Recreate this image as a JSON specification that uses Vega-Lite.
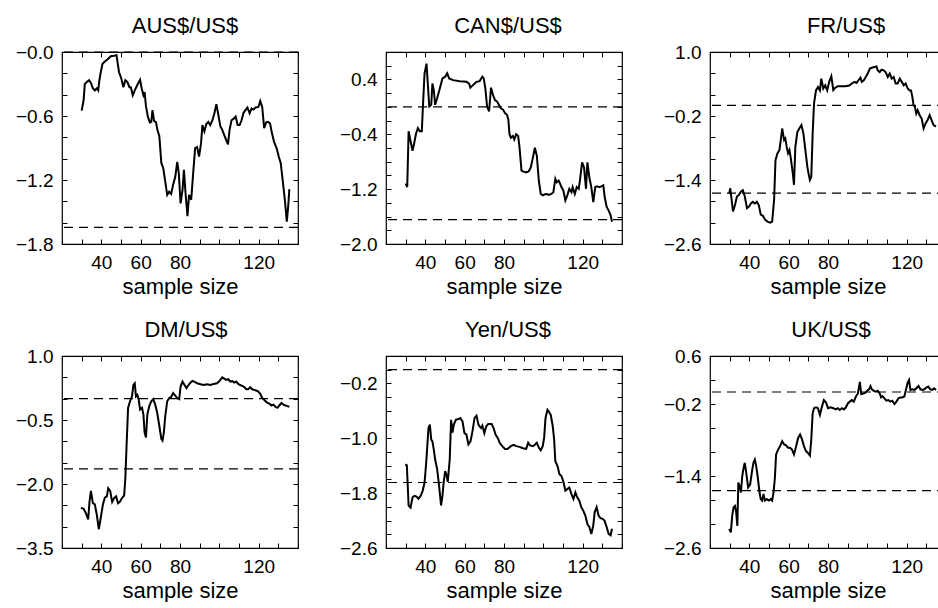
{
"$schema": "https://vega.github.io/schema/vega-lite/v6.json",
"padding": {"left": 14, "top": 14, "right": 0, "bottom": 0},
"background": "white",
"config": {
  "font": "Liberation Sans",
  "view": {"stroke": "black", "strokeWidth": 1.2},
  "axis": {"domain": false, "grid": false, "tickColor": "black", "tickSize": -5, "tickWidth": 1, "labelColor": "black", "labelFont": "Liberation Sans", "labelFontSize": 19, "titleFont": "Liberation Sans", "titleFontSize": 22, "titleFontWeight": "normal", "titleColor": "black", "labelOverlap": false, "labelFlush": false, "titlePadding": 4},
  "axisX": {"labelPadding": 14},
  "axisY": {"labelPadding": 14},
  "title": {"font": "Liberation Sans", "fontSize": 22, "fontWeight": "normal", "color": "black", "baseline": "alphabetic", "offset": 5}
},
"datasets": {
  "ref": [{"y": 0}, {"y": -1.645}],
  "aus": [
{"x":30,"y":-0.55},{"x":31,"y":-0.45},{"x":31.6,"y":-0.3},{"x":32.7,"y":-0.28},{"x":33.8,"y":-0.265},{"x":34.7,"y":-0.29},{"x":35.7,"y":-0.34},{"x":36.7,"y":-0.36},{"x":37.7,"y":-0.34},{"x":38.4,"y":-0.36},{"x":39,"y":-0.265},{"x":39.7,"y":-0.19},{"x":40.6,"y":-0.11},{"x":41.8,"y":-0.09},{"x":43.1,"y":-0.07},{"x":44.8,"y":-0.04},{"x":46.5,"y":-0.035},{"x":47.7,"y":-0.03},{"x":48.2,"y":-0.09},{"x":49,"y":-0.19},{"x":50.2,"y":-0.25},{"x":51.2,"y":-0.33},{"x":52.2,"y":-0.265},{"x":53.2,"y":-0.28},{"x":54.3,"y":-0.33},{"x":55,"y":-0.33},{"x":56,"y":-0.405},{"x":57,"y":-0.36},{"x":58.3,"y":-0.31},{"x":59.7,"y":-0.26},{"x":60.5,"y":-0.34},{"x":61.4,"y":-0.405},{"x":62,"y":-0.375},{"x":62.7,"y":-0.51},{"x":63.7,"y":-0.61},{"x":64.7,"y":-0.66},{"x":65.4,"y":-0.655},{"x":66,"y":-0.545},{"x":66.8,"y":-0.645},{"x":67.8,"y":-0.66},{"x":68.5,"y":-0.73},{"x":69.5,"y":-0.79},{"x":70.5,"y":-1.04},{"x":71.5,"y":-1.09},{"x":72.5,"y":-1.215},{"x":73.5,"y":-1.34},{"x":74.5,"y":-1.31},{"x":75.5,"y":-1.33},{"x":76.5,"y":-1.245},{"x":77.6,"y":-1.17},{"x":78.6,"y":-1.03},{"x":79.4,"y":-1.14},{"x":80.3,"y":-1.42},{"x":81.3,"y":-1.29},{"x":82,"y":-1.105},{"x":82.8,"y":-1.32},{"x":83.8,"y":-1.54},{"x":84.6,"y":-1.34},{"x":85.7,"y":-1.385},{"x":86.7,"y":-1.135},{"x":87.7,"y":-0.9},{"x":88.7,"y":-0.89},{"x":89.7,"y":-0.98},{"x":90.7,"y":-0.855},{"x":91.4,"y":-0.685},{"x":92.4,"y":-0.745},{"x":93.4,"y":-0.675},{"x":94.4,"y":-0.655},{"x":95.4,"y":-0.685},{"x":96.5,"y":-0.64},{"x":97.5,"y":-0.575},{"x":98.5,"y":-0.49},{"x":99.5,"y":-0.59},{"x":100.5,"y":-0.695},{"x":101.5,"y":-0.73},{"x":102.5,"y":-0.78},{"x":103.5,"y":-0.825},{"x":104.4,"y":-0.865},{"x":105.2,"y":-0.73},{"x":106.2,"y":-0.64},{"x":107.3,"y":-0.625},{"x":108.3,"y":-0.605},{"x":109.3,"y":-0.685},{"x":110.3,"y":-0.685},{"x":111.3,"y":-0.64},{"x":112.3,"y":-0.57},{"x":113.3,"y":-0.545},{"x":114.3,"y":-0.52},{"x":115.4,"y":-0.575},{"x":116.4,"y":-0.53},{"x":117.4,"y":-0.54},{"x":118.4,"y":-0.52},{"x":119.9,"y":-0.515},{"x":120.8,"y":-0.46},{"x":121.8,"y":-0.515},{"x":122.8,"y":-0.715},{"x":123.8,"y":-0.66},{"x":124.8,"y":-0.655},{"x":125.8,"y":-0.67},{"x":126.8,"y":-0.765},{"x":127.8,"y":-0.84},{"x":129.2,"y":-0.905},{"x":130.2,"y":-0.98},{"x":131.2,"y":-1.04},{"x":132.2,"y":-1.2},{"x":133.3,"y":-1.385},{"x":134.3,"y":-1.59},{"x":135,"y":-1.45},{"x":135.6,"y":-1.285}
  ],
  "can": [
{"x":30,"y":-1.12},{"x":30.8,"y":-1.17},{"x":31.5,"y":-0.355},{"x":32.5,"y":-0.5},{"x":33.5,"y":-0.64},{"x":34.4,"y":-0.52},{"x":35.2,"y":-0.4},{"x":36.2,"y":-0.31},{"x":37.2,"y":-0.355},{"x":38.2,"y":-0.355},{"x":38.9,"y":0.08},{"x":39.6,"y":0.49},{"x":40.6,"y":0.63},{"x":41.3,"y":0.32},{"x":42,"y":0.005},{"x":43,"y":0.03},{"x":43.6,"y":0.34},{"x":44.3,"y":0.245},{"x":45,"y":0.03},{"x":46,"y":0.125},{"x":47.4,"y":0.27},{"x":48.7,"y":0.415},{"x":50.1,"y":0.44},{"x":51.1,"y":0.49},{"x":52.1,"y":0.415},{"x":54.1,"y":0.39},{"x":57.5,"y":0.375},{"x":60.9,"y":0.365},{"x":62.2,"y":0.34},{"x":62.9,"y":0.28},{"x":64.3,"y":0.32},{"x":66,"y":0.365},{"x":67.6,"y":0.375},{"x":69,"y":0.44},{"x":69.7,"y":0.415},{"x":70.5,"y":0.27},{"x":71.4,"y":0.005},{"x":72.4,"y":-0.065},{"x":73.4,"y":0.28},{"x":74.4,"y":0.175},{"x":75.4,"y":0.1},{"x":76.4,"y":0.08},{"x":77.4,"y":0.03},{"x":78.4,"y":-0.02},{"x":79.5,"y":-0.04},{"x":80.5,"y":-0.09},{"x":81.5,"y":-0.115},{"x":82.2,"y":-0.185},{"x":82.8,"y":-0.4},{"x":83.5,"y":-0.45},{"x":84.5,"y":-0.425},{"x":85.2,"y":-0.475},{"x":86.2,"y":-0.4},{"x":87.2,"y":-0.425},{"x":87.9,"y":-0.595},{"x":88.9,"y":-0.93},{"x":89.9,"y":-0.945},{"x":91.3,"y":-0.955},{"x":92.6,"y":-0.94},{"x":93.6,"y":-0.885},{"x":94.7,"y":-0.74},{"x":95.7,"y":-0.595},{"x":96.7,"y":-0.715},{"x":97.7,"y":-1.075},{"x":98.7,"y":-1.27},{"x":99.7,"y":-1.29},{"x":100.7,"y":-1.275},{"x":101.7,"y":-1.27},{"x":102.7,"y":-1.285},{"x":104.1,"y":-1.27},{"x":105.1,"y":-1.245},{"x":106.1,"y":-1.05},{"x":106.8,"y":-1.1},{"x":107.8,"y":-1.075},{"x":108.5,"y":-1.12},{"x":109.2,"y":-1.17},{"x":110.2,"y":-1.22},{"x":111.2,"y":-1.365},{"x":112.2,"y":-1.29},{"x":113.2,"y":-1.195},{"x":114.3,"y":-1.245},{"x":114.9,"y":-1.17},{"x":116,"y":-1.27},{"x":117,"y":-1.17},{"x":118,"y":-1.195},{"x":118.6,"y":-1.075},{"x":119.7,"y":-0.81},{"x":120.7,"y":-0.885},{"x":121.7,"y":-1.195},{"x":122.4,"y":-0.81},{"x":123.4,"y":-1.03},{"x":124.4,"y":-1.17},{"x":125.4,"y":-1.39},{"x":126.4,"y":-1.17},{"x":127.4,"y":-1.16},{"x":128.4,"y":-1.17},{"x":129.5,"y":-1.16},{"x":130.5,"y":-1.145},{"x":131.2,"y":-1.315},{"x":132.2,"y":-1.46},{"x":133.2,"y":-1.51},{"x":134.2,"y":-1.58},{"x":134.9,"y":-1.675}
  ],
  "fr": [
{"x":29.8,"y":-1.65},{"x":30.3,"y":-1.555},{"x":31,"y":-1.775},{"x":31.7,"y":-1.99},{"x":32.7,"y":-1.87},{"x":33.7,"y":-1.71},{"x":34.7,"y":-1.68},{"x":35.7,"y":-1.62},{"x":36.7,"y":-1.59},{"x":37.7,"y":-1.71},{"x":38.8,"y":-1.93},{"x":39.8,"y":-1.9},{"x":40.8,"y":-1.84},{"x":41.8,"y":-1.81},{"x":42.8,"y":-1.84},{"x":43.8,"y":-1.81},{"x":44.8,"y":-1.87},{"x":45.8,"y":-2.05},{"x":46.9,"y":-2.07},{"x":47.9,"y":-2.14},{"x":49.2,"y":-2.18},{"x":50.6,"y":-2.2},{"x":51.6,"y":-2.18},{"x":52.6,"y":-1.77},{"x":53.3,"y":-1.03},{"x":54.3,"y":-0.9},{"x":55.3,"y":-0.84},{"x":56,"y":-0.65},{"x":56.7,"y":-0.435},{"x":57.7,"y":-0.65},{"x":58.3,"y":-0.62},{"x":59,"y":-0.78},{"x":59.7,"y":-0.9},{"x":60.4,"y":-0.84},{"x":61.1,"y":-0.995},{"x":62.1,"y":-1.275},{"x":62.7,"y":-1.49},{"x":63.4,"y":-0.78},{"x":64.4,"y":-0.5},{"x":65.4,"y":-0.435},{"x":66.5,"y":-0.37},{"x":67.5,"y":-0.53},{"x":68.5,"y":-0.84},{"x":69.5,"y":-1.15},{"x":70.2,"y":-1.3},{"x":70.8,"y":-1.4},{"x":71.5,"y":-1.34},{"x":72.2,"y":-0.53},{"x":72.9,"y":0.035},{"x":73.9,"y":0.28},{"x":74.9,"y":0.345},{"x":75.9,"y":0.28},{"x":76.6,"y":0.5},{"x":77.6,"y":0.315},{"x":78.6,"y":0.375},{"x":79.6,"y":0.28},{"x":80.6,"y":0.44},{"x":81.7,"y":0.545},{"x":82.7,"y":0.285},{"x":83.7,"y":0.33},{"x":85,"y":0.36},{"x":86.7,"y":0.36},{"x":88.7,"y":0.36},{"x":90.8,"y":0.37},{"x":92.1,"y":0.41},{"x":93.5,"y":0.44},{"x":94.5,"y":0.42},{"x":95.5,"y":0.47},{"x":96.5,"y":0.52},{"x":97.2,"y":0.44},{"x":98.2,"y":0.47},{"x":99.2,"y":0.53},{"x":100.2,"y":0.595},{"x":101.3,"y":0.69},{"x":102.3,"y":0.705},{"x":103.6,"y":0.72},{"x":104.6,"y":0.73},{"x":105.3,"y":0.655},{"x":106.3,"y":0.625},{"x":107.3,"y":0.67},{"x":108.3,"y":0.655},{"x":109.3,"y":0.625},{"x":110.4,"y":0.53},{"x":111.4,"y":0.595},{"x":112.4,"y":0.5},{"x":113.4,"y":0.53},{"x":114.4,"y":0.41},{"x":115.4,"y":0.41},{"x":116.5,"y":0.5},{"x":117.5,"y":0.44},{"x":118.5,"y":0.375},{"x":119.5,"y":0.41},{"x":120.5,"y":0.315},{"x":121.5,"y":0.28},{"x":122.2,"y":0.28},{"x":122.9,"y":0.16},{"x":123.5,"y":0},{"x":124.2,"y":-0.03},{"x":124.9,"y":-0.155},{"x":125.6,"y":-0.09},{"x":126.6,"y":-0.185},{"x":127.6,"y":-0.245},{"x":128.6,"y":-0.435},{"x":129.6,"y":-0.34},{"x":130.6,"y":-0.28},{"x":131.7,"y":-0.185},{"x":132.7,"y":-0.28},{"x":133.7,"y":-0.37},{"x":134.9,"y":-0.4}
  ],
  "dm": [
{"x":29.6,"y":-2.56},{"x":31,"y":-2.58},{"x":32.3,"y":-2.7},{"x":33.3,"y":-2.83},{"x":34,"y":-2.41},{"x":34.7,"y":-2.16},{"x":35.7,"y":-2.45},{"x":36.7,"y":-2.48},{"x":37.7,"y":-2.72},{"x":38.7,"y":-3.06},{"x":39.7,"y":-2.79},{"x":40.8,"y":-2.48},{"x":41.8,"y":-2.32},{"x":42.8,"y":-2.29},{"x":43.5,"y":-2.1},{"x":44.5,"y":-2.16},{"x":45.5,"y":-2.42},{"x":46.5,"y":-2.33},{"x":47.5,"y":-2.29},{"x":48.5,"y":-2.45},{"x":49.5,"y":-2.41},{"x":50.5,"y":-2.33},{"x":51.6,"y":-2.27},{"x":52.2,"y":-1.87},{"x":52.9,"y":-1.02},{"x":53.6,"y":-0.215},{"x":54.6,"y":-0.06},{"x":55.6,"y":0.055},{"x":56.3,"y":0.32},{"x":57,"y":0.36},{"x":57.6,"y":0.055},{"x":58.3,"y":0.09},{"x":59,"y":-0.02},{"x":59.7,"y":-0.255},{"x":60.7,"y":-0.215},{"x":61.4,"y":-0.37},{"x":62,"y":-0.79},{"x":62.7,"y":-0.91},{"x":63.4,"y":-0.37},{"x":64.4,"y":-0.175},{"x":65.4,"y":-0.06},{"x":66.4,"y":-0.01},{"x":67.4,"y":-0.14},{"x":68.4,"y":-0.33},{"x":69.5,"y":-0.64},{"x":70.5,"y":-0.945},{"x":71.1,"y":-0.985},{"x":71.8,"y":-0.79},{"x":72.5,"y":-0.41},{"x":73.5,"y":-0.06},{"x":74.5,"y":0.015},{"x":75.5,"y":0.04},{"x":76.5,"y":0.13},{"x":77.6,"y":0.07},{"x":78.6,"y":0.015},{"x":79.6,"y":-0.01},{"x":80.3,"y":0.285},{"x":81.3,"y":0.4},{"x":82.3,"y":0.32},{"x":83.3,"y":0.245},{"x":84.3,"y":0.32},{"x":85.3,"y":0.375},{"x":86.3,"y":0.415},{"x":87.3,"y":0.4},{"x":88.7,"y":0.36},{"x":90.4,"y":0.34},{"x":92.1,"y":0.32},{"x":93.8,"y":0.34},{"x":95.4,"y":0.32},{"x":97.1,"y":0.345},{"x":98.8,"y":0.36},{"x":99.8,"y":0.4},{"x":100.5,"y":0.44},{"x":101.5,"y":0.5},{"x":102.5,"y":0.47},{"x":103.5,"y":0.44},{"x":104.6,"y":0.455},{"x":105.6,"y":0.4},{"x":106.6,"y":0.41},{"x":107.6,"y":0.375},{"x":108.6,"y":0.4},{"x":109.6,"y":0.345},{"x":110.6,"y":0.32},{"x":111.6,"y":0.3},{"x":112.7,"y":0.27},{"x":113.7,"y":0.22},{"x":114.7,"y":0.22},{"x":115.7,"y":0.27},{"x":116.7,"y":0.22},{"x":117.7,"y":0.205},{"x":118.7,"y":0.19},{"x":119.7,"y":0.17},{"x":120.8,"y":0.115},{"x":121.8,"y":0.015},{"x":122.4,"y":-0.01},{"x":123.5,"y":-0.06},{"x":124.5,"y":-0.1},{"x":125.5,"y":-0.115},{"x":126.5,"y":-0.16},{"x":127.5,"y":-0.14},{"x":128.5,"y":-0.19},{"x":129.5,"y":-0.215},{"x":130.5,"y":-0.16},{"x":131.6,"y":-0.1},{"x":132.6,"y":-0.14},{"x":133.6,"y":-0.16},{"x":134.6,"y":-0.175},{"x":135.6,"y":-0.19}
  ],
  "yen": [
{"x":29.8,"y":-1.38},{"x":30.6,"y":-1.395},{"x":31.5,"y":-1.98},{"x":32.5,"y":-2.01},{"x":33.5,"y":-1.86},{"x":34.5,"y":-1.84},{"x":35.5,"y":-1.85},{"x":36.5,"y":-1.88},{"x":37.6,"y":-1.84},{"x":38.6,"y":-1.77},{"x":39.6,"y":-1.65},{"x":40.3,"y":-1.405},{"x":41,"y":-1.115},{"x":41.6,"y":-0.85},{"x":42.3,"y":-0.8},{"x":43,"y":-1.02},{"x":43.6,"y":-1.045},{"x":44.3,"y":-1.165},{"x":45,"y":-1.31},{"x":46,"y":-1.45},{"x":47,"y":-1.695},{"x":48,"y":-1.98},{"x":48.7,"y":-1.84},{"x":49.4,"y":-1.62},{"x":50.1,"y":-1.48},{"x":50.7,"y":-1.53},{"x":51.4,"y":-1.635},{"x":52.4,"y":-1.31},{"x":53.1,"y":-0.73},{"x":53.8,"y":-0.915},{"x":54.5,"y":-0.8},{"x":55.5,"y":-0.73},{"x":56.8,"y":-0.72},{"x":57.8,"y":-0.705},{"x":58.9,"y":-0.755},{"x":59.9,"y":-0.925},{"x":60.9,"y":-0.945},{"x":61.9,"y":-1.09},{"x":63,"y":-1.04},{"x":64,"y":-0.895},{"x":65,"y":-0.705},{"x":66,"y":-0.67},{"x":67,"y":-0.8},{"x":67.6,"y":-0.825},{"x":68.3,"y":-0.85},{"x":69,"y":-0.815},{"x":70,"y":-0.925},{"x":71,"y":-0.825},{"x":72,"y":-0.79},{"x":73.7,"y":-0.79},{"x":74.7,"y":-0.85},{"x":75.7,"y":-0.945},{"x":76.8,"y":-0.995},{"x":77.8,"y":-1.065},{"x":79.1,"y":-1.115},{"x":80.5,"y":-1.155},{"x":81.8,"y":-1.155},{"x":83.5,"y":-1.115},{"x":84.9,"y":-1.095},{"x":86.2,"y":-1.115},{"x":87.9,"y":-1.125},{"x":89.6,"y":-1.145},{"x":91.3,"y":-1.155},{"x":92.3,"y":-1.065},{"x":93.3,"y":-1.105},{"x":94.7,"y":-1.115},{"x":95.7,"y":-1.095},{"x":96.7,"y":-1.065},{"x":97.7,"y":-1.135},{"x":98.7,"y":-1.175},{"x":99.7,"y":-1.115},{"x":100.4,"y":-0.995},{"x":101.1,"y":-0.705},{"x":102.1,"y":-0.585},{"x":102.8,"y":-0.61},{"x":103.8,"y":-0.66},{"x":104.8,"y":-0.825},{"x":105.5,"y":-1.02},{"x":106.1,"y":-1.335},{"x":107.2,"y":-1.405},{"x":108.2,"y":-1.525},{"x":109.2,"y":-1.55},{"x":110.2,"y":-1.635},{"x":111.2,"y":-1.765},{"x":112.2,"y":-1.74},{"x":113.2,"y":-1.72},{"x":114.3,"y":-1.815},{"x":115.3,"y":-1.885},{"x":116.3,"y":-1.79},{"x":117.3,"y":-1.865},{"x":118.3,"y":-1.91},{"x":119.3,"y":-2.005},{"x":120.3,"y":-2.055},{"x":121.4,"y":-2.13},{"x":122.4,"y":-2.25},{"x":123.4,"y":-2.295},{"x":124.4,"y":-2.395},{"x":125.4,"y":-2.27},{"x":126.1,"y":-2.08},{"x":127.1,"y":-2.005},{"x":128.1,"y":-2.13},{"x":129.1,"y":-2.165},{"x":130.1,"y":-2.175},{"x":131.1,"y":-2.2},{"x":132.2,"y":-2.295},{"x":133.2,"y":-2.395},{"x":134.2,"y":-2.415},{"x":134.9,"y":-2.32}
  ],
  "uk": [
{"x":29.8,"y":-2.28},{"x":30.6,"y":-2.34},{"x":31.3,"y":-2.06},{"x":32,"y":-1.92},{"x":32.7,"y":-1.9},{"x":33.3,"y":-2},{"x":33.9,"y":-2.23},{"x":34.4,"y":-1.51},{"x":35,"y":-1.565},{"x":35.7,"y":-1.675},{"x":36.4,"y":-1.4},{"x":37.1,"y":-1.26},{"x":37.7,"y":-1.18},{"x":38.4,"y":-1.345},{"x":39.4,"y":-1.59},{"x":40.4,"y":-1.54},{"x":41.5,"y":-1.29},{"x":42.1,"y":-1.18},{"x":42.8,"y":-1.125},{"x":43.5,"y":-1.235},{"x":44.2,"y":-1.4},{"x":45.2,"y":-1.675},{"x":45.8,"y":-1.785},{"x":46.5,"y":-1.81},{"x":47.2,"y":-1.7},{"x":47.9,"y":-1.81},{"x":48.9,"y":-1.785},{"x":49.9,"y":-1.81},{"x":50.9,"y":-1.785},{"x":51.6,"y":-1.81},{"x":52.3,"y":-1.675},{"x":53,"y":-1.43},{"x":53.6,"y":-1.04},{"x":54.6,"y":-0.96},{"x":55.6,"y":-0.905},{"x":56.7,"y":-0.82},{"x":57.7,"y":-0.875},{"x":58.7,"y":-0.89},{"x":59.7,"y":-0.93},{"x":60.7,"y":-0.93},{"x":61.7,"y":-0.96},{"x":62.7,"y":-1.04},{"x":63.8,"y":-0.905},{"x":64.8,"y":-0.765},{"x":65.8,"y":-0.71},{"x":66.8,"y":-0.79},{"x":67.8,"y":-0.905},{"x":68.8,"y":-0.985},{"x":69.8,"y":-1.015},{"x":70.8,"y":-1.06},{"x":71.5,"y":-0.79},{"x":72.2,"y":-0.355},{"x":72.9,"y":-0.27},{"x":73.9,"y":-0.255},{"x":74.9,"y":-0.27},{"x":75.9,"y":-0.38},{"x":76.9,"y":-0.245},{"x":77.9,"y":-0.135},{"x":79,"y":-0.175},{"x":80,"y":-0.27},{"x":81.3,"y":-0.255},{"x":82.7,"y":-0.27},{"x":84,"y":-0.29},{"x":85,"y":-0.27},{"x":86,"y":-0.3},{"x":87.1,"y":-0.27},{"x":88.1,"y":-0.29},{"x":89.1,"y":-0.255},{"x":90.1,"y":-0.19},{"x":91.1,"y":-0.16},{"x":92.1,"y":-0.135},{"x":93.1,"y":-0.16},{"x":94.2,"y":-0.075},{"x":95.2,"y":-0.025},{"x":96.2,"y":0.17},{"x":96.9,"y":-0.035},{"x":97.9,"y":-0.025},{"x":98.9,"y":-0.015},{"x":99.9,"y":0.02},{"x":100.9,"y":0.045},{"x":101.6,"y":0.1},{"x":102.3,"y":0.045},{"x":103.3,"y":0.02},{"x":104.3,"y":0.005},{"x":105.3,"y":0.02},{"x":106.3,"y":-0.025},{"x":107,"y":-0.09},{"x":107.7,"y":-0.07},{"x":108.7,"y":-0.105},{"x":109.7,"y":-0.145},{"x":110.7,"y":-0.135},{"x":111.7,"y":-0.16},{"x":112.7,"y":-0.145},{"x":113.8,"y":-0.2},{"x":114.8,"y":-0.16},{"x":115.8,"y":-0.105},{"x":116.8,"y":-0.09},{"x":117.8,"y":-0.09},{"x":118.8,"y":-0.075},{"x":119.8,"y":0.06},{"x":120.5,"y":0.155},{"x":121.2,"y":0.2},{"x":121.9,"y":0.035},{"x":122.9,"y":0.045},{"x":123.9,"y":0.035},{"x":124.9,"y":0.06},{"x":126,"y":0.1},{"x":127,"y":0.045},{"x":128,"y":0.035},{"x":129,"y":0.045},{"x":130,"y":0.075},{"x":131,"y":0.09},{"x":132,"y":0.045},{"x":133,"y":0.035},{"x":134,"y":0.06},{"x":134.9,"y":0.035}
  ]
},
"columns": 3,
"spacing": {"row": 112, "column": 88},
"bounds": "flush",
"concat": [
{
  "width": 236, "height": 192,
  "title": {"text": "AUS$/US$", "dx": 5},
  "layer": [
    {"data": {"name": "aus"}, "mark": {"type": "line", "color": "black", "strokeWidth": 2},
     "encoding": {
       "x": {"field": "x", "type": "quantitative", "scale": {"domain": [20, 140], "nice": false, "zero": false}, "axis": {"orient": "bottom", "values": [20,30,40,50,60,70,80,90,100,110,120,130,140], "labelExpr": "indexof([40,60,80,120], datum.value) >= 0 ? datum.label : ''", "title": "sample size"}},
       "y": {"field": "y", "type": "quantitative", "scale": {"domain": [-1.8, 0], "nice": false, "zero": false}, "axis": {"orient": "left", "values": [-1.8,-1.6,-1.4,-1.2,-1,-0.8,-0.6,-0.4,-0.2,0], "labelExpr": "indexof([-1.8,-1.2,-0.6], datum.value) >= 0 ? format(datum.value, '.1f') : (datum.value == 0 ? '−0.0' : '')", "title": null}}
     }},
    {"data": {"name": "aus"}, "mark": {"type": "line", "opacity": 0},
     "encoding": {
       "x": {"field": "x", "type": "quantitative", "scale": {"domain": [20, 140], "nice": false, "zero": false}, "axis": {"orient": "top", "values": [20,30,40,50,60,70,80,90,100,110,120,130,140], "labels": false, "title": null}},
       "y": {"field": "y", "type": "quantitative", "scale": {"domain": [-1.8, 0], "nice": false, "zero": false}, "axis": {"orient": "right", "values": [-1.8,-1.6,-1.4,-1.2,-1,-0.8,-0.6,-0.4,-0.2,0], "labels": false, "title": null}}
     }},
    {"data": {"name": "ref"}, "mark": {"type": "rule", "color": "black", "strokeWidth": 1.2, "strokeDash": [9, 6]},
     "encoding": {"y": {"field": "y", "type": "quantitative", "scale": {"domain": [-1.8, 0], "nice": false, "zero": false}, "axis": null}}}
  ],
  "resolve": {"axis": {"x": "independent", "y": "independent"}}
},
{
  "width": 236, "height": 192,
  "title": {"text": "CAN$/US$", "dx": 4},
  "layer": [
    {"data": {"name": "can"}, "mark": {"type": "line", "color": "black", "strokeWidth": 2},
     "encoding": {
       "x": {"field": "x", "type": "quantitative", "scale": {"domain": [20, 140], "nice": false, "zero": false}, "axis": {"orient": "bottom", "values": [20,30,40,50,60,70,80,90,100,110,120,130,140], "labelExpr": "indexof([40,60,80,120], datum.value) >= 0 ? datum.label : ''", "title": "sample size"}},
       "y": {"field": "y", "type": "quantitative", "scale": {"domain": [-2, 0.8], "nice": false, "zero": false}, "axis": {"orient": "left", "values": [-2,-1.8,-1.6,-1.4,-1.2,-1,-0.8,-0.6,-0.4,-0.2,0,0.2,0.4,0.6,0.8], "labelExpr": "indexof([-2,-1.2,-0.4,0.4], datum.value) >= 0 ? format(datum.value, '.1f') : ''", "title": null}}
     }},
    {"data": {"name": "can"}, "mark": {"type": "line", "opacity": 0},
     "encoding": {
       "x": {"field": "x", "type": "quantitative", "scale": {"domain": [20, 140], "nice": false, "zero": false}, "axis": {"orient": "top", "values": [20,30,40,50,60,70,80,90,100,110,120,130,140], "labels": false, "title": null}},
       "y": {"field": "y", "type": "quantitative", "scale": {"domain": [-2, 0.8], "nice": false, "zero": false}, "axis": {"orient": "right", "values": [-2,-1.8,-1.6,-1.4,-1.2,-1,-0.8,-0.6,-0.4,-0.2,0,0.2,0.4,0.6,0.8], "labels": false, "title": null}}
     }},
    {"data": {"name": "ref"}, "mark": {"type": "rule", "color": "black", "strokeWidth": 1.2, "strokeDash": [9, 6]},
     "encoding": {"y": {"field": "y", "type": "quantitative", "scale": {"domain": [-2, 0.8], "nice": false, "zero": false}, "axis": null}}}
  ],
  "resolve": {"axis": {"x": "independent", "y": "independent"}}
},
{
  "width": 236, "height": 192,
  "title": {"text": "FR/US$", "dx": 18},
  "layer": [
    {"data": {"name": "fr"}, "mark": {"type": "line", "color": "black", "strokeWidth": 2},
     "encoding": {
       "x": {"field": "x", "type": "quantitative", "scale": {"domain": [20, 140], "nice": false, "zero": false}, "axis": {"orient": "bottom", "values": [20,30,40,50,60,70,80,90,100,110,120,130,140], "labelExpr": "indexof([40,60,80,120], datum.value) >= 0 ? datum.label : ''", "title": "sample size"}},
       "y": {"field": "y", "type": "quantitative", "scale": {"domain": [-2.6, 1], "nice": false, "zero": false}, "axis": {"orient": "left", "values": [-2.6,-2.2,-1.8,-1.4,-1,-0.6,-0.2,0.2,0.6,1], "labelExpr": "indexof([-2.6,-1.4,-0.2,1], datum.value) >= 0 ? format(datum.value, '.1f') : ''", "title": null}}
     }},
    {"data": {"name": "fr"}, "mark": {"type": "line", "opacity": 0},
     "encoding": {
       "x": {"field": "x", "type": "quantitative", "scale": {"domain": [20, 140], "nice": false, "zero": false}, "axis": {"orient": "top", "values": [20,30,40,50,60,70,80,90,100,110,120,130,140], "labels": false, "title": null}},
       "y": {"field": "y", "type": "quantitative", "scale": {"domain": [-2.6, 1], "nice": false, "zero": false}, "axis": {"orient": "right", "values": [-2.6,-2.2,-1.8,-1.4,-1,-0.6,-0.2,0.2,0.6,1], "labels": false, "title": null}}
     }},
    {"data": {"name": "ref"}, "mark": {"type": "rule", "color": "black", "strokeWidth": 1.2, "strokeDash": [9, 6]},
     "encoding": {"y": {"field": "y", "type": "quantitative", "scale": {"domain": [-2.6, 1], "nice": false, "zero": false}, "axis": null}}}
  ],
  "resolve": {"axis": {"x": "independent", "y": "independent"}}
},
{
  "width": 236, "height": 192,
  "title": {"text": "DM/US$", "dx": 6},
  "layer": [
    {"data": {"name": "dm"}, "mark": {"type": "line", "color": "black", "strokeWidth": 2},
     "encoding": {
       "x": {"field": "x", "type": "quantitative", "scale": {"domain": [20, 140], "nice": false, "zero": false}, "axis": {"orient": "bottom", "values": [20,30,40,50,60,70,80,90,100,110,120,130,140], "labelExpr": "indexof([40,60,80,120], datum.value) >= 0 ? datum.label : ''", "title": "sample size"}},
       "y": {"field": "y", "type": "quantitative", "scale": {"domain": [-3.5, 1], "nice": false, "zero": false}, "axis": {"orient": "left", "values": [-3.5,-3,-2.5,-2,-1.5,-1,-0.5,0,0.5,1], "labelExpr": "indexof([-3.5,-2,-0.5,1], datum.value) >= 0 ? format(datum.value, '.1f') : ''", "title": null}}
     }},
    {"data": {"name": "dm"}, "mark": {"type": "line", "opacity": 0},
     "encoding": {
       "x": {"field": "x", "type": "quantitative", "scale": {"domain": [20, 140], "nice": false, "zero": false}, "axis": {"orient": "top", "values": [20,30,40,50,60,70,80,90,100,110,120,130,140], "labels": false, "title": null}},
       "y": {"field": "y", "type": "quantitative", "scale": {"domain": [-3.5, 1], "nice": false, "zero": false}, "axis": {"orient": "right", "values": [-3.5,-3,-2.5,-2,-1.5,-1,-0.5,0,0.5,1], "labels": false, "title": null}}
     }},
    {"data": {"name": "ref"}, "mark": {"type": "rule", "color": "black", "strokeWidth": 1.2, "strokeDash": [9, 6]},
     "encoding": {"y": {"field": "y", "type": "quantitative", "scale": {"domain": [-3.5, 1], "nice": false, "zero": false}, "axis": null}}}
  ],
  "resolve": {"axis": {"x": "independent", "y": "independent"}}
},
{
  "width": 236, "height": 192,
  "title": {"text": "Yen/US$", "dx": 4},
  "layer": [
    {"data": {"name": "yen"}, "mark": {"type": "line", "color": "black", "strokeWidth": 2},
     "encoding": {
       "x": {"field": "x", "type": "quantitative", "scale": {"domain": [20, 140], "nice": false, "zero": false}, "axis": {"orient": "bottom", "values": [20,30,40,50,60,70,80,90,100,110,120,130,140], "labelExpr": "indexof([40,60,80,120], datum.value) >= 0 ? datum.label : ''", "title": "sample size"}},
       "y": {"field": "y", "type": "quantitative", "scale": {"domain": [-2.6, 0.2], "nice": false, "zero": false}, "axis": {"orient": "left", "values": [-2.6,-2.4,-2.2,-2,-1.8,-1.6,-1.4,-1.2,-1,-0.8,-0.6,-0.4,-0.2,0,0.2], "labelExpr": "indexof([-2.6,-1.8,-1,-0.2], datum.value) >= 0 ? format(datum.value, '.1f') : ''", "title": null}}
     }},
    {"data": {"name": "yen"}, "mark": {"type": "line", "opacity": 0},
     "encoding": {
       "x": {"field": "x", "type": "quantitative", "scale": {"domain": [20, 140], "nice": false, "zero": false}, "axis": {"orient": "top", "values": [20,30,40,50,60,70,80,90,100,110,120,130,140], "labels": false, "title": null}},
       "y": {"field": "y", "type": "quantitative", "scale": {"domain": [-2.6, 0.2], "nice": false, "zero": false}, "axis": {"orient": "right", "values": [-2.6,-2.4,-2.2,-2,-1.8,-1.6,-1.4,-1.2,-1,-0.8,-0.6,-0.4,-0.2,0,0.2], "labels": false, "title": null}}
     }},
    {"data": {"name": "ref"}, "mark": {"type": "rule", "color": "black", "strokeWidth": 1.2, "strokeDash": [9, 6]},
     "encoding": {"y": {"field": "y", "type": "quantitative", "scale": {"domain": [-2.6, 0.2], "nice": false, "zero": false}, "axis": null}}}
  ],
  "resolve": {"axis": {"x": "independent", "y": "independent"}}
},
{
  "width": 236, "height": 192,
  "title": {"text": "UK/US$", "dx": 3},
  "layer": [
    {"data": {"name": "uk"}, "mark": {"type": "line", "color": "black", "strokeWidth": 2},
     "encoding": {
       "x": {"field": "x", "type": "quantitative", "scale": {"domain": [20, 140], "nice": false, "zero": false}, "axis": {"orient": "bottom", "values": [20,30,40,50,60,70,80,90,100,110,120,130,140], "labelExpr": "indexof([40,60,80,120], datum.value) >= 0 ? datum.label : ''", "title": "sample size"}},
       "y": {"field": "y", "type": "quantitative", "scale": {"domain": [-2.6, 0.6], "nice": false, "zero": false}, "axis": {"orient": "left", "values": [-2.6,-2.2,-1.8,-1.4,-1,-0.6,-0.2,0.2,0.6], "labelExpr": "indexof([-2.6,-1.4,-0.2,0.6], datum.value) >= 0 ? format(datum.value, '.1f') : ''", "title": null}}
     }},
    {"data": {"name": "uk"}, "mark": {"type": "line", "opacity": 0},
     "encoding": {
       "x": {"field": "x", "type": "quantitative", "scale": {"domain": [20, 140], "nice": false, "zero": false}, "axis": {"orient": "top", "values": [20,30,40,50,60,70,80,90,100,110,120,130,140], "labels": false, "title": null}},
       "y": {"field": "y", "type": "quantitative", "scale": {"domain": [-2.6, 0.6], "nice": false, "zero": false}, "axis": {"orient": "right", "values": [-2.6,-2.2,-1.8,-1.4,-1,-0.6,-0.2,0.2,0.6], "labels": false, "title": null}}
     }},
    {"data": {"name": "ref"}, "mark": {"type": "rule", "color": "black", "strokeWidth": 1.2, "strokeDash": [9, 6]},
     "encoding": {"y": {"field": "y", "type": "quantitative", "scale": {"domain": [-2.6, 0.6], "nice": false, "zero": false}, "axis": null}}}
  ],
  "resolve": {"axis": {"x": "independent", "y": "independent"}}
}
]
}
